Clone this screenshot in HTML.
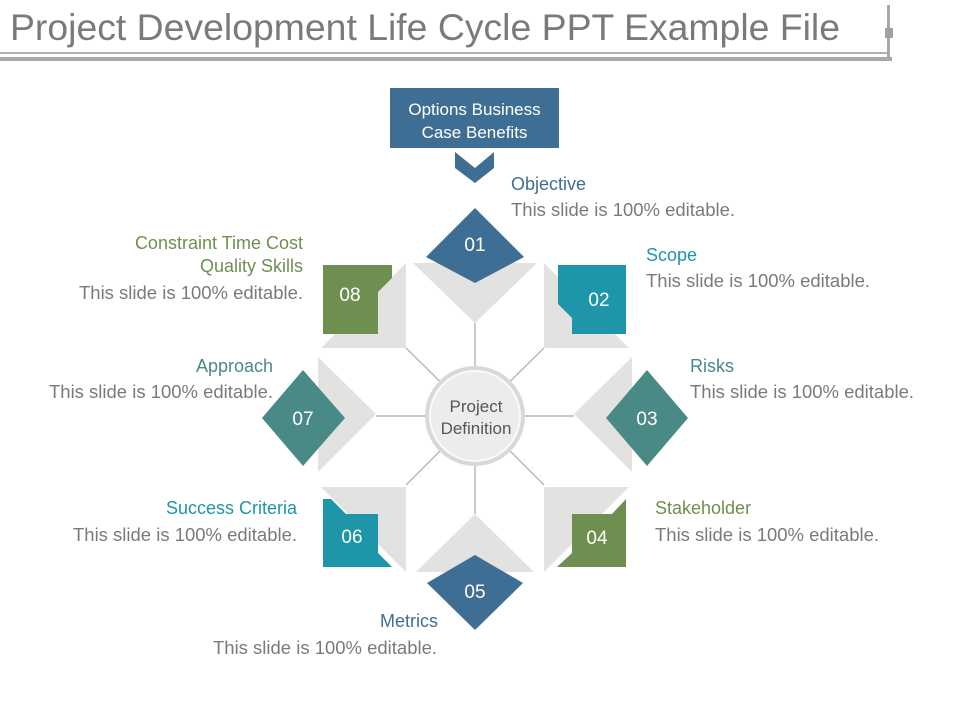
<!DOCTYPE html>
<html><head><meta charset="utf-8"><style>
html,body{margin:0;padding:0;background:#fff;}
svg{display:block;}
text{font-family:"Liberation Sans",sans-serif;}
</style></head><body>
<svg width="960" height="720" viewBox="0 0 960 720" xmlns="http://www.w3.org/2000/svg">
<text x="10" y="40" font-size="37" fill="#7a7a7a" textLength="830" lengthAdjust="spacingAndGlyphs">Project Development Life Cycle PPT Example File</text>
<rect x="0" y="52" width="890" height="2" fill="#b0b0b0"/>
<rect x="0" y="57" width="892" height="4" fill="#a8a8a8"/>
<rect x="887" y="5" width="3" height="56" fill="#a8a8a8"/>
<rect x="885" y="28" width="8" height="10" fill="#a0a0a0"/>

<rect x="390" y="88" width="169" height="60" fill="#3f6e94"/>
<text x="474.5" y="115" font-size="17" fill="#fff" text-anchor="middle">Options Business</text>
<text x="474.5" y="138" font-size="17" fill="#fff" text-anchor="middle">Case Benefits</text>
<polygon points="455,152 475,168 494,152 494,168 475,183 455,168" fill="#3f6e94"/>

<g stroke="#b8b8b8" stroke-width="1.5">
<line x1="475" y1="416" x2="475" y2="323"/>
<line x1="475" y1="416" x2="475" y2="514"/>
<line x1="475" y1="416" x2="376" y2="416"/>
<line x1="475" y1="416" x2="574" y2="416"/>
<line x1="475" y1="416" x2="406" y2="348"/>
<line x1="475" y1="416" x2="544" y2="348"/>
<line x1="475" y1="416" x2="406" y2="485"/>
<line x1="475" y1="416" x2="544" y2="485"/>
</g>

<g fill="#e2e3e0">
<polygon points="413,263 537,263 475,323"/>
<polygon points="544,263 544,348 629,348"/>
<polygon points="406,263 406,348 321,348"/>
<polygon points="318,357 376,414 318,472"/>
<polygon points="632,357 574,414 632,472"/>
<polygon points="321,487 406,487 406,572"/>
<polygon points="544,487 629,487 544,572"/>
<polygon points="416,572 534,572 475,514"/>
</g>

<polygon points="475,208 524,257 475,283 426,257" fill="#3f6e94"/>
<polygon points="558,265 626,265 626,334 572,334 572,318 558,304" fill="#1e95a8"/>
<polygon points="323,265 392,265 392,278 378,292 378,334 323,334" fill="#6f8f50"/>
<polygon points="303,370 345,418 303,466 262,418" fill="#4a8a86"/>
<polygon points="647,370 688,418 647,466 606,418" fill="#4a8a86"/>
<polygon points="323,499 331,499 346,514 378,514 378,553 392,567 323,567" fill="#1e95a8"/>
<polygon points="626,499 626,567 557,567 572,553 572,514 612,514" fill="#6f8f50"/>
<polygon points="475,555 523,583 475,630 427,583" fill="#3f6e94"/>

<g font-size="19" fill="#fff" text-anchor="middle">
<text x="475" y="251">01</text>
<text x="599" y="306">02</text>
<text x="647" y="425">03</text>
<text x="597" y="544">04</text>
<text x="475" y="598">05</text>
<text x="352" y="543">06</text>
<text x="303" y="425">07</text>
<text x="350" y="301">08</text>
</g>

<circle cx="475" cy="416" r="50" fill="#d8d8d8"/>
<circle cx="475" cy="416" r="45" fill="#ececec" stroke="#fafafa" stroke-width="2"/>
<text x="476" y="412" font-size="17" fill="#555" text-anchor="middle">Project</text>
<text x="476" y="434" font-size="17" fill="#555" text-anchor="middle">Definition</text>

<g font-size="18">
<text x="511" y="190" fill="#3f6e94">Objective</text>
<text x="511" y="216" fill="#7a7a7a" textLength="224" lengthAdjust="spacingAndGlyphs">This slide is 100% editable.</text>
<text x="646" y="261" fill="#1e95a8">Scope</text>
<text x="646" y="287" fill="#7a7a7a" textLength="224" lengthAdjust="spacingAndGlyphs">This slide is 100% editable.</text>
<text x="690" y="372" fill="#4a8a86">Risks</text>
<text x="690" y="398" fill="#7a7a7a" textLength="224" lengthAdjust="spacingAndGlyphs">This slide is 100% editable.</text>
<text x="655" y="514" fill="#6f8f50">Stakeholder</text>
<text x="655" y="541" fill="#7a7a7a" textLength="224" lengthAdjust="spacingAndGlyphs">This slide is 100% editable.</text>
<text x="438" y="627" fill="#3f6e94" text-anchor="end">Metrics</text>
<text x="213" y="654" fill="#7a7a7a" textLength="224" lengthAdjust="spacingAndGlyphs">This slide is 100% editable.</text>
<text x="297" y="514" fill="#1e95a8" text-anchor="end">Success Criteria</text>
<text x="73" y="541" fill="#7a7a7a" textLength="224" lengthAdjust="spacingAndGlyphs">This slide is 100% editable.</text>
<text x="273" y="372" fill="#4a8a86" text-anchor="end">Approach</text>
<text x="49" y="398" fill="#7a7a7a" textLength="224" lengthAdjust="spacingAndGlyphs">This slide is 100% editable.</text>
<text x="303" y="249" fill="#6f8f50" text-anchor="end">Constraint Time Cost</text>
<text x="303" y="272" fill="#6f8f50" text-anchor="end">Quality Skills</text>
<text x="79" y="299" fill="#7a7a7a" textLength="224" lengthAdjust="spacingAndGlyphs">This slide is 100% editable.</text>
</g>
</svg>
</body></html>
